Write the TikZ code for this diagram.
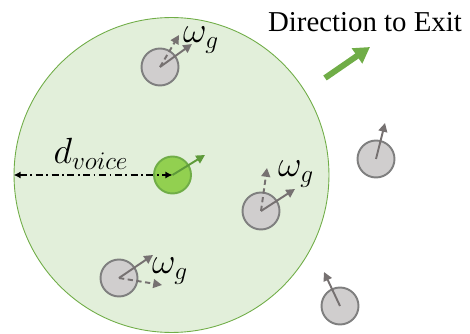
\documentclass[tikz,border=0pt]{standalone}
\usepackage{fontspec}
\setmainfont{Liberation Serif}
\usetikzlibrary{arrows.meta}
\definecolor{zonefill}{HTML}{E2EFDA}
\definecolor{zoneline}{HTML}{70AD47}
\definecolor{leaderfill}{HTML}{92D050}
\definecolor{leafgreen}{HTML}{5E9A3A}
\definecolor{personfill}{HTML}{D0CECE}
\definecolor{personline}{HTML}{7F7F7F}
\definecolor{arrowgray}{HTML}{767171}
\tikzset{
  zone/.style={circle,draw=zoneline,fill=zonefill,line width=0.5pt,
    minimum size=6.3cm,inner sep=0pt},
  person/.style={circle,draw=personline,fill=personfill,line width=1.1pt,
    minimum size=0.74cm,inner sep=0pt},
  leader/.style={person,draw=zoneline,fill=leaderfill},
  heading/.style={arrowgray,line width=1.1pt,-{Triangle[length=5pt,width=5pt]}},
  intent/.style={heading,dash pattern=on 3pt off 2pt},
  weightlabel/.style={font=\fontsize{20}{24}\selectfont,inner sep=0pt}
}

\begin{document}
\begin{tikzpicture}[x=0.02cm,y=-0.02cm]
  \useasboundingbox (0,0) rectangle (470,334);

  \node[zone] (zone) at (171.5,175) {};
  \coordinate (rim) at (zone.west);

  % leader with voice range
  \node[leader] (leader) at (172.5,175) {};
  \draw[black,line width=0.8pt,dash pattern=on 4pt off 2pt on 1pt off 2pt,
    {Latex[length=4pt,width=4pt]}-{Latex[length=4pt,width=4pt]}] (rim) -- (leader.center);
  \node[weightlabel] (dv) at (91,154) {$d_{voice}$};
  \coordinate (hl) at (205,155);
  \draw[heading,leafgreen] (leader.center) -- (hl);

  % pedestrians
  \node[person] (p1) at (160,67) {};
  \node[person] (p2) at (261,211) {};
  \node[person] (p3) at (119,278) {};
  \node[person] (p4) at (376,159) {};
  \node[person] (p5) at (340,306) {};

  \coordinate (h1) at (192,44);
  \coordinate (i1) at (179,35);
  \coordinate (h2) at (295,189);
  \coordinate (i2) at (267,168);
  \coordinate (h3) at (153,255);
  \coordinate (i3) at (162,285);
  \coordinate (h4) at (385,123);
  \coordinate (h5) at (324,272);

  \draw[intent] (p1.center) -- (i1);
  \draw[heading] (p1.center) -- (h1);
  \draw[intent] (p2.center) -- (i2);
  \draw[heading] (p2.center) -- (h2);
  \draw[intent] (p3.center) -- (i3);
  \draw[heading] (p3.center) -- (h3);
  \draw[heading] (p4.center) -- (h4);
  \draw[heading] (p5.center) -- (h5);

  \node[weightlabel] (w1) at (201,40) {$\omega_g$};
  \node[weightlabel] (w2) at (296,174) {$\omega_g$};
  \node[weightlabel] (w3) at (170,271) {$\omega_g$};

  % exit direction
  \node[font=\fontsize{16.4}{19}\selectfont,inner sep=0pt] (exit) at (365,22) {Direction to Exit};
  \coordinate (e0) at (325,78);
  \coordinate (e1) at (370,47);
  \draw[zoneline,line width=3.4pt,-{Triangle[length=9pt,width=10pt]}] (e0) -- (e1);
\end{tikzpicture}
\end{document}
